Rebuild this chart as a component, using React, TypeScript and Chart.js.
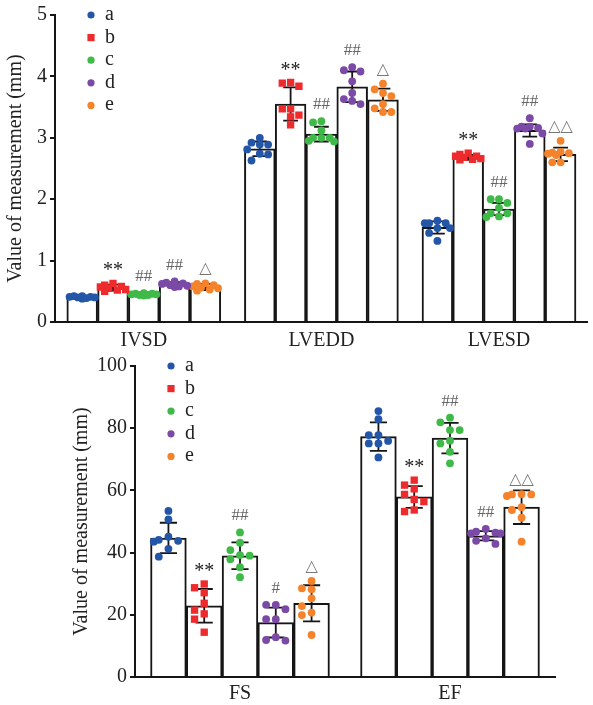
import React, { useEffect, useRef } from 'react';
import { Chart, registerables } from 'chart.js';

Chart.register(...registerables);

const FONT = "'Liberation Serif', 'Times New Roman', 'DejaVu Serif', serif";
const SYMBOL_FONT = "'Liberation Serif', 'DejaVu Sans', sans-serif";

const SERIES = ['a', 'b', 'c', 'd', 'e'];
const SERIES_COLORS = ['#2456a8', '#ee2a2c', '#3fba48', '#7b4aa6', '#f5832b'];
const SERIES_SHAPES = ['circle', 'rect', 'circle', 'circle', 'circle'];
const Y_TITLE = 'Value of measurement (mm)';

// ---------- top panel data ----------
const TOP_CATEGORIES = ['IVSD', 'LVEDD', 'LVESD'];
const TOP_Y_RANGE = [0, 5, 1];
const TOP_MEAN_A = [0.40, 2.82, 1.54];
const TOP_MEAN_B = [0.56, 3.55, 2.68];
const TOP_MEAN_C = [0.45, 3.06, 1.84];
const TOP_MEAN_D = [0.61, 3.83, 3.12];
const TOP_MEAN_E = [0.57, 3.62, 2.73];
const TOP_SD_A = [0.02, 0.12, 0.10];
const TOP_SD_B = [0.05, 0.27, 0.04];
const TOP_SD_C = [0.02, 0.12, 0.10];
const TOP_SD_D = [0.04, 0.25, 0.10];
const TOP_SD_E = [0.05, 0.18, 0.11];
const TOP_POINTS_A = [
  [0.40, 0.42, 0.41, 0.38, 0.40, 0.42, 0.39, 0.41],
  [2.89, 2.92, 2.89, 3.00, 2.81, 2.73, 2.63, 2.74],
  [1.61, 1.61, 1.61, 1.65, 1.53, 1.53, 1.45, 1.32],
];
const TOP_POINTS_B = [
  [0.52, 0.58, 0.63, 0.55, 0.50, 0.60, 0.53, 0.57],
  [3.84, 3.90, 3.89, 3.47, 3.47, 3.37, 3.34, 3.21],
  [2.65, 2.70, 2.68, 2.73, 2.66, 2.75, 2.70, 2.64],
];
const TOP_POINTS_C = [
  [0.46, 0.44, 0.45, 0.47, 0.43, 0.45, 0.46, 0.44],
  [3.25, 3.27, 3.12, 2.95, 3.00, 3.00, 3.00, 2.94],
  [1.94, 2.00, 2.00, 1.86, 1.77, 1.71, 1.72, 1.77],
];
const TOP_POINTS_D = [
  [0.63, 0.66, 0.60, 0.64, 0.58, 0.62, 0.59, 0.57],
  [4.10, 4.15, 4.08, 3.92, 3.73, 3.55, 3.63, 3.60],
  [3.32, 3.15, 3.18, 3.16, 3.18, 3.15, 3.07, 2.90],
];
const TOP_POINTS_E = [
  [0.60, 0.62, 0.58, 0.51, 0.55, 0.63, 0.53, 0.56],
  [3.73, 3.88, 3.79, 3.68, 3.55, 3.42, 3.48, 3.42],
  [2.95, 2.77, 2.74, 2.76, 2.75, 2.72, 2.60, 2.60],
];
const TOP_MARKS = [
  ['', '**', '##', '##', '△'],
  ['', '**', '##', '##', '△'],
  ['', '**', '##', '##', '△△'],
];

// ---------- bottom panel data ----------
const BOTTOM_CATEGORIES = ['FS', 'EF'];
const BOTTOM_Y_RANGE = [0, 100, 20];
const BOTTOM_MEAN_A = [44.7, 77.3];
const BOTTOM_MEAN_B = [22.9, 57.9];
const BOTTOM_MEAN_C = [39.0, 76.8];
const BOTTOM_MEAN_D = [17.5, 45.4];
const BOTTOM_MEAN_E = [23.7, 54.6];
const BOTTOM_SD_A = [4.9, 4.6];
const BOTTOM_SD_B = [5.4, 3.5];
const BOTTOM_SD_C = [4.3, 4.9];
const BOTTOM_SD_D = [4.8, 1.5];
const BOTTOM_SD_E = [5.8, 5.4];
const BOTTOM_POINTS_A = [
  [53.4, 50.7, 45.1, 44.1, 43.5, 43.8, 41.2, 38.7],
  [85.5, 82.9, 77.8, 77.8, 75.1, 75.9, 75.1, 70.6],
];
const BOTTOM_POINTS_B = [
  [28.7, 29.9, 27.1, 23.7, 20.3, 21.5, 18.6, 14.4],
  [63.3, 61.7, 58.7, 60.5, 57.1, 56.4, 53.2, 53.7],
];
const BOTTOM_POINTS_C = [
  [46.5, 43.2, 40.8, 39.2, 39.0, 37.9, 35.3, 32.1],
  [83.4, 81.9, 79.4, 79.4, 76.0, 75.1, 72.4, 68.7],
];
const BOTTOM_POINTS_D = [
  [21.8, 23.2, 23.2, 18.6, 18.6, 12.8, 11.7, 11.9],
  [47.6, 46.2, 46.7, 46.2, 46.4, 44.6, 43.8, 42.8],
];
const BOTTOM_POINTS_E = [
  [30.9, 28.2, 28.5, 25.3, 22.8, 20.7, 19.9, 13.5],
  [58.2, 58.7, 58.7, 58.8, 54.6, 53.7, 51.2, 43.5],
];
const BOTTOM_MARKS = [
  ['', '**', '##', '#', '△'],
  ['', '**', '##', '##', '△△'],
];

type Panel = {
  categories: string[];
  yRange: number[];
  means: number[][];
  sds: number[][];
  points: number[][][];
  marks: string[][];
};

type Frame = {
  top: number;
  height: number;
  padTop: number;
  padLeft: number;
  padRight: number;
  yWidth: number;
  xHeight: number;
  catPct: number;
  xLabelPad: number;
};

const TOP_PANEL: Panel = {
  categories: TOP_CATEGORIES,
  yRange: TOP_Y_RANGE,
  means: [TOP_MEAN_A, TOP_MEAN_B, TOP_MEAN_C, TOP_MEAN_D, TOP_MEAN_E],
  sds: [TOP_SD_A, TOP_SD_B, TOP_SD_C, TOP_SD_D, TOP_SD_E],
  points: [TOP_POINTS_A, TOP_POINTS_B, TOP_POINTS_C, TOP_POINTS_D, TOP_POINTS_E],
  marks: TOP_MARKS,
};

const BOTTOM_PANEL: Panel = {
  categories: BOTTOM_CATEGORIES,
  yRange: BOTTOM_Y_RANGE,
  means: [BOTTOM_MEAN_A, BOTTOM_MEAN_B, BOTTOM_MEAN_C, BOTTOM_MEAN_D, BOTTOM_MEAN_E],
  sds: [BOTTOM_SD_A, BOTTOM_SD_B, BOTTOM_SD_C, BOTTOM_SD_D, BOTTOM_SD_E],
  points: [BOTTOM_POINTS_A, BOTTOM_POINTS_B, BOTTOM_POINTS_C, BOTTOM_POINTS_D, BOTTOM_POINTS_E],
  marks: BOTTOM_MARKS,
};

const TOP_FRAME: Frame = {
  top: 0, height: 350, padTop: 13, padLeft: 0, padRight: 1,
  yWidth: 55, xHeight: 28, catPct: 0.867, xLabelPad: 7,
};
const BOTTOM_FRAME: Frame = {
  top: 350, height: 355, padTop: 16, padLeft: 66, padRight: 38,
  yWidth: 69, xHeight: 28, catPct: 0.852, xLabelPad: 5,
};

const INK = '#151515';
const DOT_R = 3.9;

function swarm(els: any[], barW: number, r: number) {
  if (!els.length) return;
  const baseX = els[0].x;
  const cands = [0, -0.27, 0.27, -0.41, 0.41, -0.14, 0.14].map((f) => f * barW);
  const order = els.map((_, i) => i).sort((i, j) => els[i].y - els[j].y);
  const placed: { x: number; y: number }[] = [];
  order.forEach((i) => {
    const e = els[i];
    let best = 0;
    let bestD = -1;
    for (const o of cands) {
      const x = baseX + o;
      let dmin = Infinity;
      for (const p of placed) dmin = Math.min(dmin, Math.hypot(p.x - x, p.y - e.y));
      if (dmin >= 2 * r) { best = o; break; }
      if (dmin > bestD) { bestD = dmin; best = o; }
    }
    e.x = baseX + best;
    placed.push({ x: e.x, y: e.y });
  });
}

function groupOffset(s: number, catPct: number) {
  return -catPct / 2 + ((s + 0.5) * catPct) / SERIES.length;
}

function makeDecor(panel: Panel, frame: Frame) {
  const n = panel.categories.length;
  const ns = SERIES.length;
  const barW = (chart: any) => (chart.chartArea.width / n) * frame.catPct / ns;
  return {
    id: 'decor',
    afterDatasetsUpdate(chart: any) {
      const bw = barW(chart);
      SERIES.forEach((_, s) => {
        const meta = chart.getDatasetMeta(ns + s);
        let k = 0;
        panel.points[s].forEach((vals) => {
          const els = meta.data.slice(k, k + vals.length);
          k += vals.length;
          swarm(els, bw, DOT_R);
        });
      });
    },
    afterDatasetDraw(chart: any, args: any) {
      const s = args.index;
      if (s >= ns) return;
      const meta = chart.getDatasetMeta(s);
      const ys = chart.scales.y;
      const ctx = chart.ctx;
      const cap = barW(chart) * 0.24;
      ctx.save();
      ctx.strokeStyle = INK;
      ctx.lineWidth = 1.8;
      meta.data.forEach((bar: any, c: number) => {
        const m = panel.means[s][c];
        const sd = panel.sds[s][c];
        const y1 = ys.getPixelForValue(m + sd);
        const y2 = ys.getPixelForValue(m - sd);
        ctx.beginPath();
        ctx.moveTo(bar.x, y1); ctx.lineTo(bar.x, y2);
        ctx.moveTo(bar.x - cap, y1); ctx.lineTo(bar.x + cap, y1);
        ctx.moveTo(bar.x - cap, y2); ctx.lineTo(bar.x + cap, y2);
        ctx.stroke();
      });
      ctx.restore();
    },
    afterDraw(chart: any) {
      const ctx = chart.ctx;
      const ys = chart.scales.y;
      const area = chart.chartArea;
      ctx.save();
      panel.categories.forEach((_, c) => {
        SERIES.forEach((__, s) => {
          const txt = panel.marks[c][s];
          if (!txt) return;
          const bar = chart.getDatasetMeta(s).data[c];
          let top = ys.getPixelForValue(panel.means[s][c] + panel.sds[s][c]);
          const pmeta = chart.getDatasetMeta(ns + s);
          let k = 0;
          for (let cc = 0; cc < c; cc++) k += panel.points[s][cc].length;
          for (let i = 0; i < panel.points[s][c].length; i++) {
            top = Math.min(top, pmeta.data[k + i].y - DOT_R);
          }
          ctx.textAlign = 'center';
          ctx.textBaseline = 'alphabetic';
          if (txt.startsWith('*')) {
            ctx.font = `20px ${FONT}`;
            ctx.fillStyle = '#222';
            ctx.fillText(txt, bar.x, top - 3);
          } else if (txt.startsWith('#')) {
            ctx.font = `17px ${FONT}`;
            ctx.fillStyle = '#666';
            ctx.fillText(txt, bar.x, top - 8);
          } else {
            ctx.font = `16px ${SYMBOL_FONT}`;
            ctx.fillStyle = '#777';
            ctx.fillText(txt, bar.x, top - 6);
          }
        });
      });
      const mx = area.left + 36;
      SERIES.forEach((name, s) => {
        const y = area.top + s * 22.6;
        ctx.fillStyle = SERIES_COLORS[s];
        if (SERIES_SHAPES[s] === 'rect') {
          ctx.fillRect(mx - 3.6, y - 3.6, 7.2, 7.2);
        } else {
          ctx.beginPath();
          ctx.arc(mx, y, 3.6, 0, Math.PI * 2);
          ctx.fill();
        }
        ctx.fillStyle = '#222';
        ctx.font = `20px ${FONT}`;
        ctx.textAlign = 'left';
        ctx.textBaseline = 'alphabetic';
        ctx.fillText(name, mx + 14, y + 5);
      });
      ctx.restore();
    },
  };
}

function buildConfig(panel: Panel, frame: Frame): any {
  const n = panel.categories.length;
  const ns = SERIES.length;
  const datasets: any[] = [];
  SERIES.forEach((name, s) => {
    const off = groupOffset(s, frame.catPct);
    datasets.push({
      type: 'bar',
      label: name,
      data: panel.means[s].map((m, c) => ({ x: c + off, y: m })),
      backgroundColor: '#ffffff',
      borderColor: INK,
      borderWidth: 2,
      grouped: false,
      barPercentage: 1,
      categoryPercentage: 1,
      xAxisID: 'x2',
      yAxisID: 'y',
      order: 2,
    });
  });
  SERIES.forEach((name, s) => {
    const off = groupOffset(s, frame.catPct);
    const data: { x: number; y: number }[] = [];
    panel.points[s].forEach((vals, c) => vals.forEach((v) => data.push({ x: c + off, y: v })));
    datasets.push({
      type: 'scatter',
      label: name + ' points',
      data,
      xAxisID: 'x2',
      yAxisID: 'y',
      pointStyle: SERIES_SHAPES[s],
      pointRadius: SERIES_SHAPES[s] === 'rect' ? 5.2 : DOT_R,
      pointHoverRadius: SERIES_SHAPES[s] === 'rect' ? 5.2 : DOT_R,
      backgroundColor: SERIES_COLORS[s],
      borderColor: SERIES_COLORS[s],
      borderWidth: 0,
      order: 0,
    });
  });
  return {
    type: 'bar',
    data: { labels: panel.categories, datasets },
    options: {
      responsive: false,
      maintainAspectRatio: false,
      animation: false,
      events: [],
      layout: { padding: { top: frame.padTop, left: frame.padLeft, right: frame.padRight, bottom: 0 } },
      plugins: { legend: { display: false }, tooltip: { enabled: false } },
      scales: {
        x: {
          type: 'category',
          labels: panel.categories,
          offset: true,
          grid: { display: false, drawTicks: false },
          border: { display: true, color: INK, width: 2 },
          ticks: { color: '#222', font: { family: FONT, size: 20 }, padding: frame.xLabelPad, maxRotation: 0 },
          afterFit: (sc: any) => { sc.height = frame.xHeight; },
        },
        x2: { type: 'linear', display: false, min: -0.5, max: n - 0.5, offset: false },
        y: {
          min: panel.yRange[0],
          max: panel.yRange[1],
          ticks: { stepSize: panel.yRange[2], color: '#222', font: { family: FONT, size: 20 }, padding: 3 },
          grid: { display: true, drawOnChartArea: false, drawTicks: true, tickLength: 5, color: INK, lineWidth: 2 },
          border: { display: true, color: INK, width: 2 },
          title: {
            display: true,
            text: Y_TITLE,
            color: '#222',
            font: { family: FONT, size: 20 },
            padding: { top: 4, bottom: 0 },
          },
          afterFit: (sc: any) => { sc.width = frame.yWidth; },
        },
      },
    },
    plugins: [makeDecor(panel, frame)],
  };
}

function PanelChart({ panel, frame }: { panel: Panel; frame: Frame }) {
  const ref = useRef<HTMLCanvasElement>(null);
  useEffect(() => {
    const chart = new Chart(ref.current as HTMLCanvasElement, buildConfig(panel, frame));
    return () => chart.destroy();
  }, [panel, frame]);
  return (
    <canvas
      ref={ref}
      width={593}
      height={frame.height}
      style={{ position: 'absolute', left: 0, top: frame.top, width: 593, height: frame.height, display: 'block' }}
    />
  );
}

export default function App() {
  return (
    <div style={{ position: 'absolute', left: 0, top: 0, width: 593, height: 705, background: '#ffffff', overflow: 'hidden' }}>
      <PanelChart panel={TOP_PANEL} frame={TOP_FRAME} />
      <PanelChart panel={BOTTOM_PANEL} frame={BOTTOM_FRAME} />
    </div>
  );
}
